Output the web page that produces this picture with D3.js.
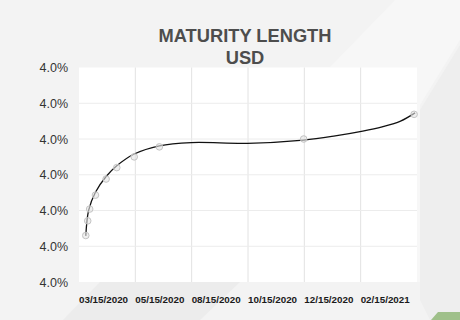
<!DOCTYPE html>
<html lang="en">
<head>
    <meta charset="UTF-8">
    <title>Maturity Length USD</title>
    <script src="https://cdnjs.cloudflare.com/ajax/libs/d3/7.8.5/d3.min.js"></script>
    <style>
        body {
            margin: 0;
            padding: 0;
            background-color: #f3f3f3;
            font-family: "Liberation Sans", Arial, sans-serif;
        }
    </style>
</head>
<body>
    <svg id="chart" width="460" height="320"></svg>

    <script>
        // Data
        const categories = ["03/15/2020", "05/15/2020", "08/15/2020", "10/15/2020", "12/15/2020", "02/15/2021"];
        const yTicks = [3.97, 3.98, 3.99, 4.00, 4.01, 4.02, 4.03];

        const pointDates = ["2020-03-15", "2020-03-17", "2020-03-19", "2020-03-25", "2020-04-05",
                            "2020-04-16", "2020-05-04", "2020-05-30", "2020-10-26", "2021-02-17"];
        const pointValues = [3.9830, 3.9871, 3.9904, 3.9943, 3.9988, 4.0020, 4.0050, 4.0078, 4.0100, 4.0169];

        const trendDates = ["2020-03-15", "2020-03-18", "2020-03-25", "2020-04-05", "2020-04-16",
                            "2020-05-04", "2020-05-30", "2020-07-02", "2020-08-29", "2020-10-26",
                            "2020-11-26", "2020-12-26", "2021-01-15", "2021-02-03", "2021-02-18"];
        const trendValues = [3.9829, 3.9901, 3.9951, 3.9995, 4.0025, 4.0058, 4.0081, 4.0090,
                             4.0088, 4.0097, 4.0108, 4.0122, 4.0134, 4.0150, 4.0173];

        const width = 460;
        const height = 320;
        const margin = { top: 67.5, right: 43, bottom: 38, left: 79 };
        const plotWidth = width - margin.left - margin.right;
        const plotHeight = height - margin.top - margin.bottom;

        const parse = d3.timeParse("%Y-%m-%d");
        const points = pointDates.map((d, i) => ({ date: parse(d), value: pointValues[i] }));
        const trend = trendDates.map((d, i) => ({ date: parse(d), value: trendValues[i] }));

        const svg = d3.select("#chart");

        // Background facets (subtle)
        const bg = svg.append("g");
        bg.append("polygon")
            .attr("points", "395,0 460,0 460,40 420,105 420,282 300,282 300,67 330,67")
            .attr("fill", "#f7f7f7");
        bg.append("polygon")
            .attr("points", "460,45 460,320 430,320 420,300 420,110")
            .attr("fill", "#eeeeee");
        bg.append("polygon")
            .attr("points", "100,282 63,320 200,320 240,282")
            .attr("fill", "#ececec");
        bg.append("polygon")
            .attr("points", "431,320 438,312 460,312 460,320")
            .attr("fill", "#9fc08a");

        const g = svg.append("g")
            .attr("transform", `translate(${margin.left},${margin.top})`);

        g.append("rect")
            .attr("width", plotWidth)
            .attr("height", plotHeight)
            .attr("fill", "white");

        // Scales
        const xBand = d3.scaleBand()
            .domain(categories)
            .range([0, plotWidth]);

        const xTime = d3.scaleTime()
            .domain([parse("2020-03-08"), parse("2021-02-20")])
            .range([0, plotWidth]);

        const yScale = d3.scaleLinear()
            .domain([3.97, 4.03])
            .range([plotHeight, 0]);

        // Gridlines
        g.selectAll("line.vgrid")
            .data(categories.slice(1))
            .enter()
            .append("line")
            .attr("class", "vgrid")
            .attr("x1", d => xBand(d))
            .attr("x2", d => xBand(d))
            .attr("y1", 0)
            .attr("y2", plotHeight)
            .style("stroke", "#e2e2e2")
            .style("stroke-width", 1);

        g.selectAll("line.hgrid")
            .data(yTicks.slice(1, -1))
            .enter()
            .append("line")
            .attr("class", "hgrid")
            .attr("x1", 0)
            .attr("x2", plotWidth)
            .attr("y1", d => yScale(d))
            .attr("y2", d => yScale(d))
            .style("stroke", "#ececec")
            .style("stroke-width", 1);

        // Y axis
        const yAxis = g.append("g")
            .call(d3.axisLeft(yScale)
                .tickValues(yTicks)
                .tickFormat(d => d3.format(".1f")(d) + "%")
                .tickSize(0)
                .tickPadding(11));
        yAxis.select(".domain").remove();
        yAxis.selectAll("text")
            .style("font-family", "'Liberation Sans', Arial, sans-serif")
            .style("font-size", "12.5px")
            .style("fill", "#333");

        // X axis labels, left-aligned to each band
        g.selectAll("text.xlabel")
            .data(categories)
            .enter()
            .append("text")
            .attr("class", "xlabel")
            .attr("x", d => xBand(d))
            .attr("y", plotHeight + 21)
            .attr("text-anchor", "start")
            .style("font-size", "9.8px")
            .style("font-weight", "bold")
            .style("fill", "#1a1a1a")
            .text(d => d);

        // Trend line
        const line = d3.line()
            .x(d => xTime(d.date))
            .y(d => yScale(d.value))
            .curve(d3.curveCatmullRom.alpha(0.5));

        g.append("path")
            .datum(trend)
            .attr("d", line)
            .style("fill", "none")
            .style("stroke", "#111")
            .style("stroke-width", 1.3);

        // Data points
        g.selectAll("circle.point")
            .data(points)
            .enter()
            .append("circle")
            .attr("class", "point")
            .attr("cx", d => xTime(d.date))
            .attr("cy", d => yScale(d.value))
            .attr("r", 3.3)
            .style("fill", "#e4e4e4")
            .style("fill-opacity", 0.6)
            .style("stroke", "#c4c4c4")
            .style("stroke-width", 1);

        // Title
        svg.append("text")
            .attr("x", 245)
            .attr("y", 42)
            .attr("text-anchor", "middle")
            .style("font-size", "18.3px")
            .style("font-weight", "bold")
            .style("fill", "#4d4d4d")
            .text("MATURITY LENGTH");

        svg.append("text")
            .attr("x", 245)
            .attr("y", 63.5)
            .attr("text-anchor", "middle")
            .style("font-size", "18.3px")
            .style("font-weight", "bold")
            .style("fill", "#4d4d4d")
            .text("USD");
    </script>
</body>
</html>
